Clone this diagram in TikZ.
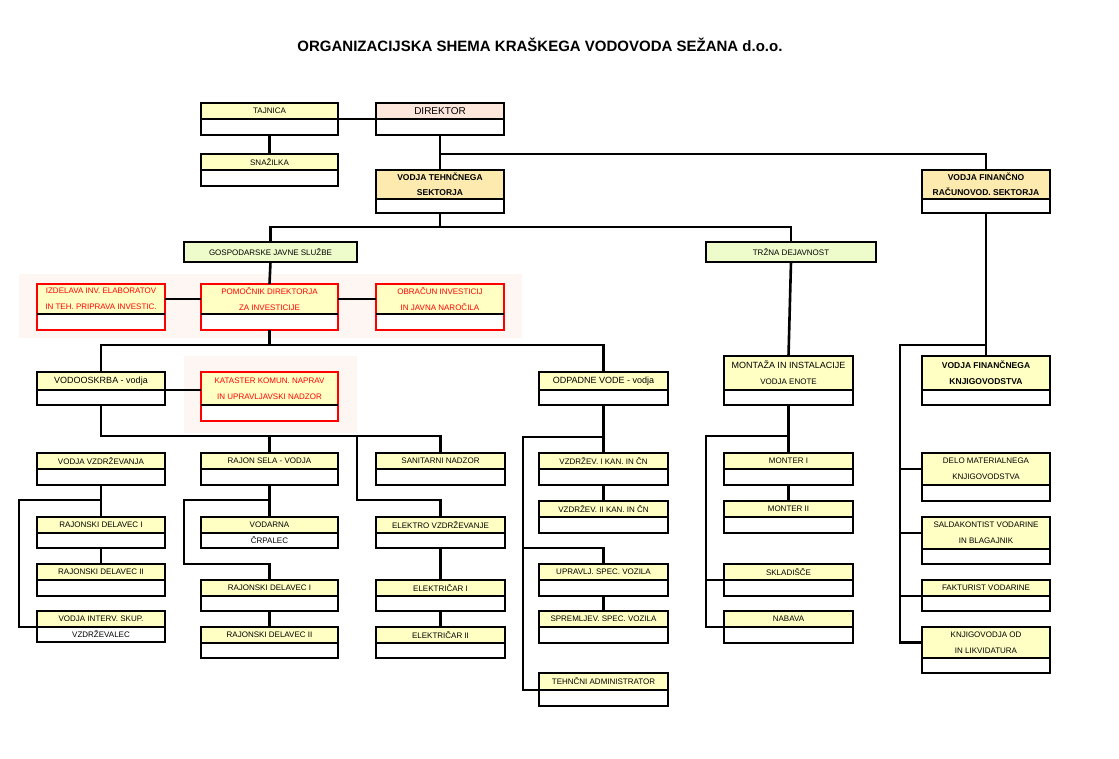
\documentclass[tikz,border=0pt]{standalone}
\usepackage{fontspec}
\setmainfont{Liberation Sans}
\usepackage{tikz}

\definecolor{unitfill}{HTML}{FFFFC4}
\definecolor{headfill}{HTML}{FDE6DC}
\definecolor{sectorfill}{HTML}{FCEAAE}
\definecolor{servicefill}{HTML}{EEFCCC}
\definecolor{bandfill}{HTML}{FDF6F2}
\definecolor{unitred}{HTML}{FF0000}

% one unit of the chart: upper part with title, lower part (blank or with a post)
% #1 name, #2 x, #3 y, #4 width, #5 upper height, #6 lower height, #7 style, #8 title, #9 post
\newcommand{\OrgUnit}[9]{%
  \node[UpperStyle,#7,minimum width=#4pt,minimum height=#5pt] (#1) at (#2,#3) {#8};
  \node[LowerStyle,#7,fill=white,text=black,anchor=north,minimum width=#4pt,minimum height=#6pt] (#1b) at (#1.south) {#9};
  \draw[DividerStyle] (#1.south west) -- (#1.south east);
}

\begin{document}
\begin{tikzpicture}[x=1pt,y=-1pt]
  \tikzset{UpperStyle/.style = {
    shape         = rectangle,
    anchor        = north west,
    draw          = black,
    fill          = unitfill,
    line width    = 1.8pt,
    text          = black,
    align         = center,
    inner sep     = 0pt,
    outer sep     = 0pt,
    font          = \fontsize{8}{16}\selectfont
    }
  }
  \tikzset{LowerStyle/.style = {
    shape         = rectangle,
    draw          = black,
    line width    = 1.8pt,
    align         = center,
    inner sep     = 0pt,
    outer sep     = 0pt,
    font          = \fontsize{8}{16}\selectfont
    }
  }
  \tikzset{DividerStyle/.style = {draw = black, line width = 1.8pt}}
  \tikzset{RedUnit/.style = {draw = unitred, text = unitred}}
  \tikzset{SectorUnit/.style = {fill = sectorfill, font = \fontsize{8.5}{15}\selectfont\bfseries}}
  \tikzset{Link/.style = {draw = black, line width = 2.6pt}}

  \useasboundingbox (0,0) rectangle (1119,759);

  % background bands
  \fill[bandfill] (19,274) rectangle (522,338);
  \fill[bandfill] (184,356) rectangle (357,433);

  \node[font=\fontsize{15}{18}\selectfont\bfseries] (title) at (540,45)
    {ORGANIZACIJSKA SHEMA KRAŠKEGA VODOVODA SEŽANA d.o.o.};

  % top level
  \OrgUnit{tajnica}{201}{103}{137}{16}{16}{}{TAJNICA}{}
  \OrgUnit{snazilka}{201}{154}{137}{16}{16}{}{SNAŽILKA}{}
  \OrgUnit{direktor}{376}{103}{128}{16}{16}{fill=headfill,font=\fontsize{10}{12}\selectfont}{DIREKTOR}{}
  \OrgUnit{vtehn}{376}{170}{128}{29}{14}{SectorUnit}{VODJA TEHNČNEGA\\SEKTORJA}{}
  \OrgUnit{vfin}{922}{170}{128}{29}{14}{SectorUnit}{VODJA FINANČNO\\RAČUNOVOD. SEKTORJA}{}
  \node[UpperStyle,fill=servicefill,minimum width=173pt,minimum height=20pt] (gjs) at (184,242) {GOSPODARSKE JAVNE SLUŽBE};
  \node[UpperStyle,fill=servicefill,minimum width=170pt,minimum height=20pt] (trzna) at (706,242) {TRŽNA DEJAVNOST};

  % investments
  \OrgUnit{izdel}{37}{284}{128}{30}{16}{RedUnit}{IZDELAVA INV. ELABORATOV\\IN TEH. PRIPRAVA INVESTIC.}{}
  \OrgUnit{pomoc}{201}{284}{137}{30}{16}{RedUnit}{POMOČNIK DIREKTORJA\\ZA INVESTICIJE}{}
  \OrgUnit{obrac}{376}{284}{128}{30}{16}{RedUnit}{OBRAČUN INVESTICIJ\\IN JAVNA NAROČILA}{}
  \OrgUnit{katast}{201}{372}{137}{33}{16}{RedUnit}{KATASTER KOMUN. NAPRAV\\IN UPRAVLJAVSKI NADZOR}{}

  % departments
  \OrgUnit{vodoo}{37}{372}{128}{18}{15}{font=\fontsize{9}{12}\selectfont}{VODOOSKRBA - vodja}{}
  \OrgUnit{odpad}{539}{372}{129}{18}{15}{font=\fontsize{9}{12}\selectfont}{ODPADNE VODE - vodja}{}
  \OrgUnit{montaz}{724}{356}{129}{34}{15}{}{{\fontsize{9}{12}\selectfont MONTAŽA IN INSTALACIJE}\\VODJA ENOTE}{}
  \OrgUnit{vfknj}{922}{356}{128}{34}{15}{font=\fontsize{8.5}{16}\selectfont\bfseries}{VODJA FINANČNEGA\\KNJIGOVODSTVA}{}

  % water supply
  \OrgUnit{vvzdr}{37}{453}{128}{16}{16}{}{VODJA VZDRŽEVANJA}{}
  \OrgUnit{rdel1}{37}{517}{128}{16}{15}{}{RAJONSKI DELAVEC I}{}
  \OrgUnit{rdel2}{37}{564}{128}{16}{16}{}{RAJONSKI DELAVEC II}{}
  \OrgUnit{vint}{37}{611}{128}{16}{15}{}{VODJA INTERV. SKUP.}{VZDRŽEVALEC}
  \OrgUnit{rsela}{201}{453}{137}{16}{16}{}{RAJON SELA - VODJA}{}
  \OrgUnit{vodarna}{201}{517}{137}{16}{15}{}{VODARNA}{ČRPALEC}
  \OrgUnit{rdelS1}{201}{580}{137}{16}{15}{}{RAJONSKI DELAVEC I}{}
  \OrgUnit{rdelS2}{201}{627}{137}{16}{15}{}{RAJONSKI DELAVEC II}{}
  \OrgUnit{sanit}{376}{453}{129}{16}{16}{}{SANITARNI NADZOR}{}
  \OrgUnit{elektro}{376}{517}{129}{16}{15}{}{ELEKTRO VZDRŽEVANJE}{}
  \OrgUnit{elek1}{376}{580}{129}{16}{15}{}{ELEKTRIČAR I}{}
  \OrgUnit{elek2}{376}{627}{129}{16}{15}{}{ELEKTRIČAR II}{}

  % waste water
  \OrgUnit{vzd1}{539}{453}{129}{16}{16}{}{VZDRŽEV. I KAN. IN ČN}{}
  \OrgUnit{vzd2}{539}{501}{129}{16}{16}{}{VZDRŽEV. II KAN. IN ČN}{}
  \OrgUnit{upravlj}{539}{564}{129}{16}{16}{}{UPRAVLJ. SPEC. VOZILA}{}
  \OrgUnit{spreml}{539}{611}{129}{16}{16}{}{SPREMLJEV. SPEC. VOZILA}{}
  \OrgUnit{tehadm}{539}{673}{129}{17}{16}{}{TEHNČNI ADMINISTRATOR}{}

  % market
  \OrgUnit{mont1}{724}{453}{129}{16}{16}{}{MONTER I}{}
  \OrgUnit{mont2}{724}{501}{129}{16}{16}{}{MONTER II}{}
  \OrgUnit{sklad}{724}{564}{129}{16}{16}{}{SKLADIŠČE}{}
  \OrgUnit{nabava}{724}{611}{129}{16}{16}{}{NABAVA}{}

  % finance
  \OrgUnit{delo}{922}{453}{128}{32}{16}{}{DELO MATERIALNEGA\\KNJIGOVODSTVA}{}
  \OrgUnit{saldak}{922}{517}{128}{32}{15}{}{SALDAKONTIST VODARINE\\IN BLAGAJNIK}{}
  \OrgUnit{faktur}{922}{580}{128}{16}{15}{}{FAKTURIST VODARINE}{}
  \OrgUnit{knjig}{922}{627}{128}{31}{15}{}{KNJIGOVODJA OD\\IN LIKVIDATURA}{}

  % connectors
  \draw[Link] (tajnica.south east) -- (direktor.south west);
  \draw[Link] (tajnicab.south) -- (snazilka.north);
  \draw[Link] (direktorb.south) -- (vtehn.north);
  \draw[Link] (direktorb.south) ++(0,19) -| (vfin.north);
  \draw[Link] (vtehnb.south) -- ++(0,14) -| (trzna.north);
  \draw[Link] (vtehnb.south) ++(0,14) -| (gjs.north);
  \draw[Link] (gjs.south) -- (pomoc.north);
  \draw[Link] (izdel.east) -- (pomoc.west);
  \draw[Link] (pomoc.east) -- (obrac.west);
  \draw[Link] (pomocb.south) -- ++(0,15) -| (vodoo.north);
  \draw[Link] (pomocb.south) ++(0,15) -| (odpad.north);
  \draw[Link] (vodoo.south east) -- (vodoo.south east -| katast.west);
  \draw[Link] (vodoob.south) -- ++(0,31) -| (sanit.north);
  \draw[Link] (vodoob.south) ++(0,31) -| (rsela.north);
  \draw[Link] (vodoob.south) ++(256,31) -- ++(0,64) -| (elektro.north);
  \draw[Link] (vvzdrb.south) -- (rdel1.north);
  \draw[Link] (vvzdrb.south) ++(0,15) -- ++(-82,0) |- (vint.south west);
  \draw[Link] (rdel1b.south) -- (rdel2.north);
  \draw[Link] (rselab.south) -- (vodarna.north);
  \draw[Link] (rselab.south) ++(0,15) -- ++(-85.5,0) -- ++(0,64) -| (rdelS1.north);
  \draw[Link] (rdelS1b.south) -- (rdelS2.north);
  \draw[Link] (elektrob.south) -- (elek1.north);
  \draw[Link] (elek1b.south) -- (elek2.north);
  \draw[Link] (odpadb.south) -- (vzd1.north);
  \draw[Link] (odpadb.south) ++(0,32) -- ++(-80.5,0) |- (tehadm.south west);
  \draw[Link] (odpadb.south) ++(-80.5,143) -| (upravlj.north);
  \draw[Link] (vzd1b.south) -- (vzd2.north);
  \draw[Link] (upravljb.south) -- (spreml.north);
  \draw[Link] (trzna.south) -- (montaz.north);
  \draw[Link] (montazb.south) -- (mont1.north);
  \draw[Link] (montazb.south) ++(0,31) -- ++(-82.5,0) |- (nabava.south west);
  \draw[Link] (nabava.south west) ++(-18,0) |- (sklad.south west);
  \draw[Link] (mont1b.south) -- (mont2.north);
  \draw[Link] (vfinb.south) -- (vfknj.north);
  \draw[Link] (vfknj.north) ++(0,-11) -- ++(-86,0) |- (knjig.west);
  \draw[Link] (knjig.west) ++(-22,0) |- (delo.west);
  \draw[Link] (knjig.west) ++(-22,0) |- (saldak.west);
  \draw[Link] (knjig.west) ++(-22,0) |- (faktur.south west);
\end{tikzpicture}
\end{document}
